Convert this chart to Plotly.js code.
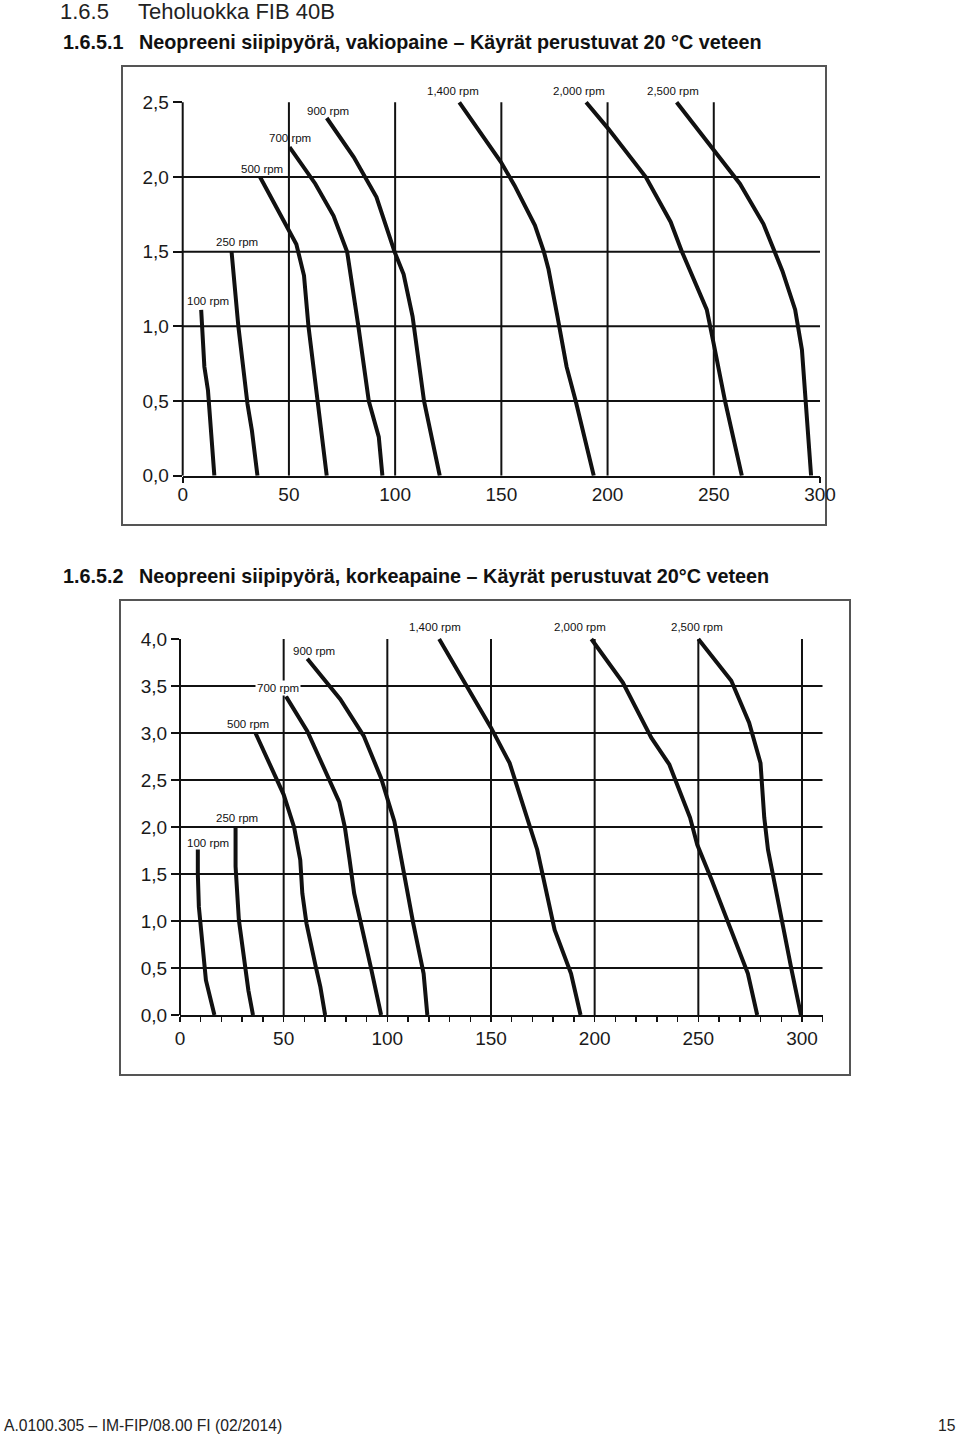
<!DOCTYPE html>
<html>
<head>
<meta charset="utf-8">
<script src="https://cdn.plot.ly/plotly-3.0.1.min.js"></script>
<style>
  html, body { margin: 0; padding: 0; background: #fff; }
  #chart { width: 960px; height: 1436px; }
</style>
</head>
<body>
<div id="chart"></div>
<script>
// ---------------- DATA ----------------
// Chart 1: Neopreeni siipipyörä, vakiopaine (flow x, head y)
const rpmLabels = ["100 rpm", "250 rpm", "500 rpm", "700 rpm", "900 rpm", "1,400 rpm", "2,000 rpm", "2,500 rpm"];

const c1_100_x  = [8.7, 10.2, 11.9, 14.9];
const c1_100_y  = [1.11, 0.73, 0.57, 0];
const c1_250_x  = [23, 26.2, 30.5, 32.6, 35.2];
const c1_250_y  = [1.5, 1.0, 0.48, 0.30, 0];
const c1_500_x  = [36.4, 50.7, 53.5, 57.1, 59.2, 63.5, 67.8];
const c1_500_y  = [2.0, 1.63, 1.55, 1.34, 1.0, 0.5, 0];
const c1_700_x  = [50.3, 62.4, 71, 77.4, 82.7, 87.6, 92.3, 94];
const c1_700_y  = [2.2, 1.955, 1.74, 1.5, 1.0, 0.5, 0.26, 0];
const c1_900_x  = [67.8, 80.5, 91.2, 99.7, 104, 108.2, 113.6, 121];
const c1_900_y  = [2.395, 2.134, 1.866, 1.5, 1.348, 1.067, 0.5, 0];
const c1_1400_x = [130.2, 149.8, 156.2, 165.8, 170, 172.2, 176.4, 180.7, 185, 193.5];
const c1_1400_y = [2.5, 2.1, 1.944, 1.676, 1.5, 1.382, 1.067, 0.73, 0.5, 0];
const c1_2000_x = [189.9, 200.3, 218, 229.7, 235, 246.7, 249.9, 255.3, 263.2];
const c1_2000_y = [2.5, 2.324, 2.0, 1.699, 1.5, 1.112, 0.888, 0.5, 0];
const c1_2500_x = [232.5, 250.4, 262.3, 273.4, 278.7, 282.3, 288.3, 289.8, 291.5, 295.8];
const c1_2500_y = [2.5, 2.167, 1.955, 1.685, 1.5, 1.371, 1.112, 1.0, 0.843, 0];

// Chart 2: Neopreeni siipipyörä, korkeapaine
const c2_100_x  = [8.6, 8.6, 9.1, 10.2, 11.4, 12.5, 16.6];
const c2_100_y  = [1.76, 1.5, 1.15, 0.87, 0.55, 0.37, 0];
const c2_250_x  = [26.8, 26.8, 28.4, 31.4, 33, 35.2];
const c2_250_y  = [2.0, 1.58, 1.01, 0.51, 0.26, 0];
const c2_500_x  = [36.4, 50, 55, 58, 59, 61, 65.5, 67.7, 70];
const c2_500_y  = [3.0, 2.345, 2.0, 1.65, 1.295, 0.975, 0.512, 0.3, 0];
const c2_700_x  = [51.1, 61.4, 76.8, 79.5, 81.8, 84, 92, 97];
const c2_700_y  = [3.39, 3.02, 2.267, 2.0, 1.65, 1.295, 0.512, 0];
const c2_900_x  = [61.4, 77.3, 88.6, 97, 103.4, 106.8, 112.5, 117.5, 119.3];
const c2_900_y  = [3.79, 3.36, 2.97, 2.52, 2.06, 1.65, 0.975, 0.44, 0];
const c2_1400_x = [125, 150, 159, 167, 172.3, 180.7, 188.6, 193.2];
const c2_1400_y = [4.0, 3.057, 2.68, 2.11, 1.758, 0.904, 0.441, 0];
const c2_2000_x = [198.4, 213.6, 227.3, 236, 246, 249.5, 256.4, 267, 273.9, 278.4];
const c2_2000_y = [4.0, 3.537, 2.95, 2.665, 2.1, 1.81, 1.438, 0.833, 0.441, 0];
const c2_2500_x = [250, 265.9, 274.5, 280, 281.8, 283.6, 286.8, 290.5, 295, 299.5];
const c2_2500_y = [4.0, 3.555, 3.11, 2.68, 2.1, 1.758, 1.40, 0.975, 0.477, 0];

// Tick values / labels
const xTicks      = [0, 50, 100, 150, 200, 250, 300];
const xTickText   = ["0", "50", "100", "150", "200", "250", "300"];
const y1Ticks     = [0, 0.5, 1.0, 1.5, 2.0, 2.5];
const y1TickText  = ["0,0", "0,5", "1,0", "1,5", "2,0", "2,5"];
const y2Ticks     = [0, 0.5, 1.0, 1.5, 2.0, 2.5, 3.0, 3.5, 4.0];
const y2TickText  = ["0,0", "0,5", "1,0", "1,5", "2,0", "2,5", "3,0", "3,5", "4,0"];
const x1GridVals  = [50, 100, 150, 200, 250];
const x2GridVals  = [50, 100, 150, 200, 250, 300];
const y1GridVals  = [0.5, 1.0, 1.5, 2.0];
const y2GridVals  = [0.5, 1.0, 1.5, 2.0, 2.5, 3.0, 3.5];

// Texts
const heading      = ["1.6.5", "Teholuokka FIB 40B"];
const subheading1  = ["1.6.5.1", "Neopreeni siipipyörä, vakiopaine – Käyrät perustuvat 20 °C veteen"];
const subheading2  = ["1.6.5.2", "Neopreeni siipipyörä, korkeapaine – Käyrät perustuvat 20°C veteen"];
const footerLeft   = "A.0100.305 – IM-FIP/08.00 FI (02/2014)";
const footerRight  = "15";

// ---------------- LAYOUT / STYLE ----------------
const W = 960, H = 1436;
const px = v => v / W;
const py = v => 1 - v / H;

const series1 = [[c1_100_x,c1_100_y],[c1_250_x,c1_250_y],[c1_500_x,c1_500_y],[c1_700_x,c1_700_y],
                 [c1_900_x,c1_900_y],[c1_1400_x,c1_1400_y],[c1_2000_x,c1_2000_y],[c1_2500_x,c1_2500_y]];
const series2 = [[c2_100_x,c2_100_y],[c2_250_x,c2_250_y],[c2_500_x,c2_500_y],[c2_700_x,c2_700_y],
                 [c2_900_x,c2_900_y],[c2_1400_x,c2_1400_y],[c2_2000_x,c2_2000_y],[c2_2500_x,c2_2500_y]];

// label pixel offsets relative to each curve's first point
const shift1 = [[7,9],[5,10],[2,8],[0,9],[1,7],[-6,11],[-7,11],[-4,11]];
const shift2 = [[10,7],[1,9],[-7,9],[-8,8],[7,8],[-4,12],[-11,12],[-1,12]];

const ink = "#111";
const curveW = 4;
const gridW = 2;

const traces = [];
series1.forEach((s, i) => traces.push({
  x: s[0], y: s[1], xaxis: "x", yaxis: "y", type: "scatter", mode: "lines",
  name: rpmLabels[i], line: { color: ink, width: curveW }, showlegend: false, hoverinfo: "x+y+name"
}));
series2.forEach((s, i) => traces.push({
  x: s[0], y: s[1], xaxis: "x2", yaxis: "y2", type: "scatter", mode: "lines",
  name: rpmLabels[i], line: { color: ink, width: curveW }, showlegend: false, hoverinfo: "x+y+name"
}));
// invisible helper trace for the tick-only overlay axis
traces.push({ x: [0], y: [0], xaxis: "x3", yaxis: "y", mode: "markers", marker: { opacity: 0 }, showlegend: false, hoverinfo: "skip" });

const dom1x = [px(182.7), px(820)];
const dom1y = [py(475.7), py(475.7 - 2.52 * 149.35)];
const dom2x = [px(180), px(180 + 310 * 2.0733)];
const dom2y = [py(1015), py(1015 - 4.03 * 94)];

const tickFont = { family: "Liberation Sans, Arial, sans-serif", size: 19, color: "#1a1a1a" };

const shapes = [];
// frames
shapes.push({ type: "rect", xref: "paper", yref: "paper", x0: px(122), x1: px(826), y0: py(66), y1: py(525),
  line: { color: "#555", width: 2 }, layer: "below" });
shapes.push({ type: "rect", xref: "paper", yref: "paper", x0: px(120), x1: px(850), y0: py(600), y1: py(1075),
  line: { color: "#555", width: 2 }, layer: "below" });
// chart 1 grid
y1GridVals.forEach(v => shapes.push({ type: "line", xref: "x", yref: "y", x0: 0, x1: 300, y0: v, y1: v,
  line: { color: ink, width: gridW }, layer: "below" }));
x1GridVals.forEach(v => shapes.push({ type: "line", xref: "x", yref: "y", x0: v, x1: v, y0: 0, y1: 2.5,
  line: { color: ink, width: gridW }, layer: "below" }));
shapes.push({ type: "line", xref: "paper", yref: "y", x0: dom1x[0], x1: dom1x[0], y0: 0, y1: 2.5,
  line: { color: ink, width: gridW }, layer: "below" });
// chart 2 grid
y2GridVals.forEach(v => shapes.push({ type: "line", xref: "x2", yref: "y2", x0: 0, x1: 310, y0: v, y1: v,
  line: { color: ink, width: gridW }, layer: "below" }));
x2GridVals.forEach(v => shapes.push({ type: "line", xref: "x2", yref: "y2", x0: v, x1: v, y0: 0, y1: 4.0,
  line: { color: ink, width: gridW }, layer: "below" }));
shapes.push({ type: "line", xref: "paper", yref: "y2", x0: dom2x[0], x1: dom2x[0], y0: 0, y1: 4.0,
  line: { color: ink, width: gridW }, layer: "below" });

const labelFont = { family: "Liberation Sans, Arial, sans-serif", size: 11.5, color: "#111" };
const annotations = [];
series1.forEach((s, i) => annotations.push({
  xref: "x", yref: "y", x: s[0][0], y: s[1][0], text: rpmLabels[i], showarrow: false,
  xanchor: "center", yanchor: "middle", xshift: shift1[i][0], yshift: shift1[i][1], font: labelFont
}));
series2.forEach((s, i) => annotations.push({
  xref: "x2", yref: "y2", x: s[0][0], y: s[1][0], text: rpmLabels[i], showarrow: false,
  xanchor: "center", yanchor: "middle", xshift: shift2[i][0], yshift: shift2[i][1], font: labelFont,
  bgcolor: i === 3 ? "#fff" : "rgba(0,0,0,0)"
}));

const headFont = { family: "Liberation Sans, Arial, sans-serif", size: 22, color: "#222" };
const subFont = { family: "Liberation Sans, Arial, sans-serif", size: 19.8, color: "#111", weight: "bold" };
const footFont = { family: "Liberation Sans, Arial, sans-serif", size: 15.7, color: "#222" };
function txt(t, x, y, font, anchor) {
  annotations.push({ xref: "paper", yref: "paper", x: px(x), y: py(y), text: t, showarrow: false,
    xanchor: anchor || "left", yanchor: "middle", font: font });
}
txt(heading[0], 58, 12, headFont);
txt(heading[1], 136, 12, headFont);
txt("<b>" + subheading1[0] + "</b>", 61, 42, subFont);
txt("<b>" + subheading1[1] + "</b>", 137, 42, subFont);
txt("<b>" + subheading2[0] + "</b>", 61, 576, subFont);
txt("<b>" + subheading2[1] + "</b>", 137, 576, subFont);
txt(footerLeft, 2, 1425, footFont);
txt(footerRight, 958, 1425, footFont, "right");

const layout = {
  width: W, height: H, autosize: false,
  margin: { l: 0, r: 0, t: 0, b: 0, pad: 0 },
  paper_bgcolor: "#fff", plot_bgcolor: "rgba(0,0,0,0)",
  showlegend: false,
  xaxis: {
    domain: dom1x, range: [0, 300], anchor: "y", tickmode: "array", tickvals: xTicks, ticktext: xTickText,
    ticks: "", showgrid: false, zeroline: false, showline: true, linecolor: ink, linewidth: gridW,
    tickfont: tickFont, fixedrange: true
  },
  xaxis3: {
    overlaying: "x", anchor: "y", range: [0, 300], tickmode: "array", tickvals: [0, 300], ticks: "outside",
    ticklen: 6, tickwidth: gridW, tickcolor: ink, showticklabels: false, showgrid: false, zeroline: false,
    showline: false, side: "bottom", fixedrange: true
  },
  yaxis: {
    domain: dom1y, range: [0, 2.52], anchor: "x", tickmode: "array", tickvals: y1Ticks, ticktext: y1TickText,
    ticks: "outside", ticklen: 9, tickwidth: gridW, tickcolor: ink, showgrid: false, zeroline: false,
    showline: false, tickfont: tickFont, fixedrange: true
  },
  xaxis2: {
    domain: dom2x, range: [0, 310], anchor: "y2", tickmode: "array", tickvals: xTicks, ticktext: xTickText,
    ticks: "outside", ticklen: 5, tickwidth: 1.5, tickcolor: ink,
    minor: { tick0: 0, dtick: 10, ticks: "outside", ticklen: 5, tickwidth: 1.5, tickcolor: ink, showgrid: false },
    showgrid: false, zeroline: false, showline: true, linecolor: ink, linewidth: gridW,
    tickfont: tickFont, fixedrange: true
  },
  yaxis2: {
    domain: dom2y, range: [0, 4.03], anchor: "x2", tickmode: "array", tickvals: y2Ticks, ticktext: y2TickText,
    ticks: "outside", ticklen: 8, tickwidth: gridW, tickcolor: ink, showgrid: false, zeroline: false,
    showline: false, tickfont: tickFont, fixedrange: true
  },
  shapes: shapes,
  annotations: annotations
};

Plotly.newPlot("chart", traces, layout, { staticPlot: true, displayModeBar: false });
</script>
</body>
</html>
